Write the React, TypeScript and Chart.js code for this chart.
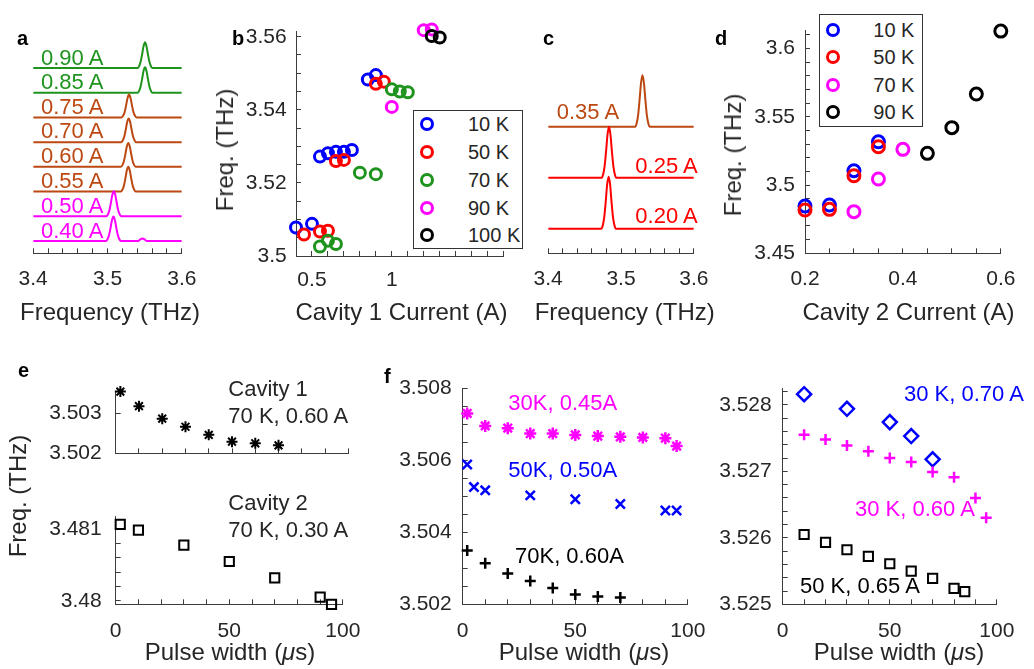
import React, { useEffect, useRef } from 'react';
import { Chart, registerables } from 'chart.js';

Chart.register(...registerables);

const FONT = '"Liberation Sans", Arial, Helvetica, sans-serif';
const TXT = '#262626';
const AX = '#3c3c3c';
const BLUE = '#0000ff';
const RED = '#ff0000';
const GREEN = '#1e941e';
const MAG = '#ff00ff';
const BLK = '#000000';
const BROWN = '#bc4812';

type Pt = [number, number];

// ---------------- Panel a : spectra (frequency THz, normalised intensity) ----------------
const aSpec040: Pt[] = [[3.4,0],[3.498,0],[3.5,0.07],[3.502,0.23],[3.504,0.51],[3.506,0.84],[3.508,0.99],[3.51,0.84],[3.512,0.51],[3.514,0.23],[3.516,0.07],[3.518,0],[3.541,0],[3.544,0.06],[3.547,0.1],[3.55,0.06],[3.553,0],[3.6,0]];
const aSpec050: Pt[] = [[3.4,0],[3.4985,0],[3.5005,0.07],[3.5025,0.23],[3.5045,0.53],[3.5065,0.86],[3.5085,1.01],[3.5105,0.86],[3.5125,0.53],[3.5145,0.23],[3.5165,0.07],[3.5185,0],[3.6,0]];
const aSpec055: Pt[] = [[3.4,0],[3.518,0],[3.52,0.07],[3.522,0.23],[3.524,0.52],[3.526,0.85],[3.528,1],[3.53,0.85],[3.532,0.52],[3.534,0.23],[3.536,0.07],[3.538,0],[3.6,0]];
const aSpec060: Pt[] = [[3.4,0],[3.518,0],[3.52,0.07],[3.522,0.22],[3.524,0.5],[3.526,0.82],[3.528,0.97],[3.53,0.82],[3.532,0.5],[3.534,0.22],[3.536,0.07],[3.538,0],[3.6,0]];
const aSpec070: Pt[] = [[3.4,0],[3.5185,0],[3.5205,0.07],[3.5225,0.22],[3.5245,0.5],[3.5265,0.82],[3.5285,0.96],[3.5305,0.82],[3.5325,0.5],[3.5345,0.22],[3.5365,0.07],[3.5385,0],[3.6,0]];
const aSpec075: Pt[] = [[3.4,0],[3.519,0],[3.521,0.065],[3.523,0.21],[3.525,0.48],[3.527,0.79],[3.529,0.93],[3.531,0.79],[3.533,0.48],[3.535,0.21],[3.537,0.065],[3.539,0],[3.6,0]];
const aSpec085: Pt[] = [[3.4,0],[3.5405,0],[3.5425,0.07],[3.5445,0.24],[3.5465,0.54],[3.5485,0.88],[3.5505,1.03],[3.5525,0.88],[3.5545,0.54],[3.5565,0.24],[3.5585,0.07],[3.5605,0],[3.6,0]];
const aSpec090: Pt[] = [[3.4,0],[3.5405,0],[3.5425,0.07],[3.5445,0.24],[3.5465,0.54],[3.5485,0.88],[3.5505,1.04],[3.5525,0.88],[3.5545,0.54],[3.5565,0.24],[3.5585,0.07],[3.5605,0],[3.6,0]];
const aTraces = [aSpec040, aSpec050, aSpec055, aSpec060, aSpec070, aSpec075, aSpec085, aSpec090];
const aTraceLabels = ['0.40 A', '0.50 A', '0.55 A', '0.60 A', '0.70 A', '0.75 A', '0.85 A', '0.90 A'];
const aTraceColors = [MAG, MAG, BROWN, BROWN, BROWN, BROWN, GREEN, GREEN];

// ---------------- Panel c : spectra ----------------
const cSpec020: Pt[] = [[3.4,0],[3.473,0],[3.475,0.07],[3.477,0.23],[3.479,0.53],[3.481,0.87],[3.483,1.02],[3.485,0.87],[3.487,0.53],[3.489,0.23],[3.491,0.07],[3.493,0],[3.6,0]];
const cSpec025: Pt[] = [[3.4,0],[3.4735,0],[3.4755,0.07],[3.4775,0.23],[3.4795,0.52],[3.4815,0.85],[3.4835,1],[3.4855,0.85],[3.4875,0.52],[3.4895,0.23],[3.4915,0.07],[3.4935,0],[3.6,0]];
const cSpec035: Pt[] = [[3.4,0],[3.5195,0],[3.5215,0.07],[3.5235,0.23],[3.5255,0.53],[3.5275,0.86],[3.5295,1.01],[3.5315,0.86],[3.5335,0.53],[3.5355,0.23],[3.5375,0.07],[3.5395,0],[3.6,0]];
const cTraces = [cSpec020, cSpec025, cSpec035];
const cTraceLabels = ['0.20 A', '0.25 A', '0.35 A'];
const cTraceColors = [RED, RED, BROWN];

const freqTickLabels = [3.4, 3.5, 3.6];

// ---------------- Panel b : cavity 1 current vs frequency ----------------
const bCur10 = [0.4, 0.5, 0.55, 0.6, 0.65, 0.7, 0.75, 0.85, 0.9];
const bFreq10 = [3.5078, 3.5088, 3.5272, 3.5281, 3.5285, 3.5285, 3.529, 3.5483, 3.5495];
const bCur50 = [0.45, 0.55, 0.6, 0.65, 0.7, 0.9, 0.95];
const bFreq50 = [3.5059, 3.5067, 3.5069, 3.526, 3.5263, 3.5471, 3.5477];
const bCur70 = [0.55, 0.6, 0.65, 0.8, 0.9, 1.0, 1.05, 1.1];
const bFreq70 = [3.5026, 3.5042, 3.5033, 3.5228, 3.5224, 3.5456, 3.545, 3.5448];
const bCur90 = [1.0, 1.2, 1.25];
const bFreq90 = [3.5408, 3.5618, 3.562];
const bCur100 = [1.25, 1.3];
const bFreq100 = [3.5602, 3.5598];
const bLegend = ['10 K', '50 K', '70 K', '90 K', '100 K'];
const bXTickLabels = [0.5, 1];
const bYTickLabels = [3.5, 3.52, 3.54, 3.56];

// ---------------- Panel d : cavity 2 current vs frequency ----------------
const dCur10 = [0.2, 0.25, 0.3, 0.35];
const dFreq10 = [3.4846, 3.4854, 3.5105, 3.5317];
const dCur50 = [0.2, 0.25, 0.3, 0.35];
const dFreq50 = [3.4817, 3.4822, 3.5068, 3.528];
const dCur70 = [0.3, 0.35, 0.4];
const dFreq70 = [3.4805, 3.5044, 3.5261];
const dCur90 = [0.45, 0.5, 0.55, 0.6];
const dFreq90 = [3.5232, 3.542, 3.5666, 3.6127];
const dLegend = ['10 K', '50 K', '70 K', '90 K'];
const dXTickLabels = [0.2, 0.4, 0.6];
const dYTickLabels = [3.45, 3.5, 3.55, 3.6];

// ---------------- Panel e : pulse width ----------------
const eCav1Width = [2, 10, 20, 30, 40, 50, 60, 70];
const eCav1Freq = [3.50353, 3.50317, 3.50286, 3.50266, 3.50246, 3.50229, 3.50225, 3.5022];
const eCav2Width = [2, 10, 30, 50, 70, 90, 95];
const eCav2Freq = [3.48107, 3.48099, 3.48078, 3.48055, 3.48032, 3.48005, 3.47995];
const eUpperYTickLabels = [3.502, 3.503];
const eLowerYTickLabels = [3.48, 3.481];
const pulseTickLabels = [0, 50, 100];

// ---------------- Panel f (middle) ----------------
const f30Width = [2, 10, 20, 30, 40, 50, 60, 70, 80, 90, 95];
const f30Freq = [3.50731, 3.50696, 3.5069, 3.50675, 3.50675, 3.50671, 3.50668, 3.50666, 3.50664, 3.50662, 3.5064];
const f50Width = [2, 5, 10, 30, 50, 70, 90, 95];
const f50Freq = [3.50589, 3.50526, 3.50517, 3.50503, 3.50492, 3.50479, 3.50461, 3.50461];
const f70Width = [2, 10, 20, 30, 40, 50, 60, 70];
const f70Freq = [3.5035, 3.50314, 3.50286, 3.50265, 3.50245, 3.50227, 3.50222, 3.50219];
const fMidYTickLabels = [3.502, 3.504, 3.506, 3.508];

// ---------------- Panel f (right) ----------------
const g30a070Width = [10, 30, 50, 60, 70];
const g30a070Freq = [3.52816, 3.52794, 3.52774, 3.52753, 3.52718];
const g30a060Width = [10, 20, 30, 40, 50, 60, 70, 80, 90, 95];
const g30a060Freq = [3.52755, 3.52748, 3.52739, 3.5273, 3.5272, 3.52714, 3.52699, 3.52691, 3.5266, 3.5263];
const g50a065Width = [10, 20, 30, 40, 50, 60, 70, 80, 85];
const g50a065Freq = [3.52605, 3.52593, 3.52582, 3.52572, 3.52561, 3.5255, 3.52539, 3.52524, 3.52519];
const fRightYTickLabels = [3.525, 3.526, 3.527, 3.528];

// ---------------- helpers ----------------
type Rect = { x: number; y: number; w: number; h: number };
type Area = { l: number; t: number; r: number; b: number };
type AxisSpec = { min: number; max: number; step: number; labels?: number[]; show?: boolean; tickPad?: number };

const fmtNum = (v: number) => String(parseFloat(v.toFixed(4)));

function axisOpts(s: AxisSpec, dir: 'x' | 'y', size: number) {
  const show = s.show !== false;
  return {
    type: 'linear',
    position: dir === 'x' ? 'bottom' : 'left',
    min: s.min,
    max: s.max,
    afterFit: (sc: any) => {
      if (dir === 'x') sc.height = size;
      else sc.width = size;
    },
    // tick marks at every multiple of the step inside the axis range
    afterBuildTicks: (sc: any) => {
      const out: { value: number }[] = [];
      const i0 = Math.ceil(s.min / s.step - 1e-6);
      const i1 = Math.floor(s.max / s.step + 1e-6);
      for (let i = i0; i <= i1; i++) out.push({ value: parseFloat((i * s.step).toFixed(8)) });
      sc.ticks = out;
    },
    border: { display: show, color: AX, width: 1 },
    grid: { display: show, drawOnChartArea: false, drawTicks: true, tickLength: -5, color: AX, lineWidth: 1 },
    ticks: {
      display: show,
      stepSize: s.step,
      autoSkip: false,
      maxRotation: 0,
      minRotation: 0,
      padding: s.tickPad ?? 16,
      color: TXT,
      font: { family: FONT, size: 21 },
      callback: (v: any) => {
        const n = Number(v);
        return (s.labels || []).some((l) => Math.abs(l - n) < s.step * 0.01) ? fmtNum(n) : '';
      },
    },
    title: { display: false },
  };
}

function Panel(props: { rect: Rect; area: Area; type: string; datasets: any[]; x: AxisSpec; y: AxisSpec }) {
  const { rect, area, type, datasets, x, y } = props;
  const ref = useRef<HTMLCanvasElement>(null);
  useEffect(() => {
    const chart = new Chart(ref.current as HTMLCanvasElement, {
      type,
      data: { datasets },
      options: {
        responsive: false,
        maintainAspectRatio: false,
        animation: false,
        devicePixelRatio: 1,
        events: [],
        layout: { padding: { left: 0, top: area.t - rect.y, right: rect.x + rect.w - area.r, bottom: 0 } },
        plugins: { legend: { display: false }, tooltip: { enabled: false } },
        scales: {
          x: axisOpts(x, 'x', rect.y + rect.h - area.b),
          y: axisOpts(y, 'y', area.l - rect.x),
        },
      },
    } as any);
    return () => chart.destroy();
  }, []);
  return (
    <canvas
      ref={ref}
      width={rect.w}
      height={rect.h}
      style={{ position: 'absolute', left: rect.x, top: rect.y, width: rect.w, height: rect.h }}
    />
  );
}

function specSets(traces: Pt[][], colors: string[]) {
  return traces.map((pts, k) => ({
    data: pts.map(([f, v]) => ({ x: f, y: v + k })),
    borderColor: colors[k],
    backgroundColor: colors[k],
    borderWidth: 2,
    pointRadius: 0,
    cubicInterpolationMode: 'monotone',
    fill: false,
  }));
}

function scat(xs: number[], ys: number[], color: string, style: string, radius: number, bw: number, order: number) {
  return {
    data: xs.map((v, i) => ({ x: v, y: ys[i] })),
    pointStyle: style,
    pointRadius: radius,
    pointBorderWidth: bw,
    pointBorderColor: color,
    pointBackgroundColor: 'rgba(0,0,0,0)',
    borderColor: color,
    backgroundColor: 'rgba(0,0,0,0)',
    clip: false,
    order,
  };
}

function Txt(p: { x: number; base: number; text: React.ReactNode; color?: string; size?: number; align?: 'left' | 'right' | 'center'; bold?: boolean }) {
  const size = p.size ?? 22;
  const tf = p.align === 'right' ? 'translateX(-100%)' : p.align === 'center' ? 'translateX(-50%)' : undefined;
  return (
    <div
      style={{
        position: 'absolute',
        left: p.x,
        top: p.base - 0.8465 * size,
        fontSize: size,
        lineHeight: `${size}px`,
        color: p.color ?? TXT,
        fontWeight: p.bold ? 700 : 400,
        whiteSpace: 'nowrap',
        fontFamily: FONT,
        transform: tf,
      }}
    >
      {p.text}
    </div>
  );
}

function VTitle(p: { cx: number; cy: number; text: string }) {
  return (
    <div
      style={{
        position: 'absolute', left: p.cx, top: p.cy, fontSize: 24, lineHeight: '24px', color: TXT, fontFamily: FONT,
        whiteSpace: 'nowrap', transform: 'translate(-50%, -50%) rotate(-90deg)',
      }}
    >
      {p.text}
    </div>
  );
}

function Legend(p: { left: number; top: number; w: number; h: number; labels: string[]; colors: string[]; rows: number[]; cx: number; tx: number }) {
  return (
    <div style={{ position: 'absolute', left: p.left, top: p.top, width: p.w, height: p.h, border: '1px solid #333', boxSizing: 'border-box', background: '#fff' }}>
      {p.labels.map((lab, i) => (
        <React.Fragment key={lab}>
          <div
            style={{
              position: 'absolute', left: p.cx - 7 - 1, top: p.rows[i] - 7 - 1, width: 14, height: 14,
              border: `3px solid ${p.colors[i]}`, borderRadius: '50%', boxSizing: 'border-box',
            }}
          />
          <div style={{ position: 'absolute', left: p.tx - 1, top: p.rows[i] - 10 - 1, fontSize: 20, lineHeight: '20px', color: TXT, fontFamily: FONT, whiteSpace: 'nowrap' }}>{lab}</div>
        </React.Fragment>
      ))}
    </div>
  );
}

const pulseTitle = (
  <span>
    Pulse width (<i>μ</i>s)
  </span>
);

export default function App() {
  const pulseX: AxisSpec = { min: 0, max: 100, step: 10, labels: pulseTickLabels, tickPad: 19.6 };

  return (
    <div style={{ position: 'fixed', left: 0, top: 0, width: 1034, height: 669, background: '#fff', overflow: 'hidden', fontFamily: FONT }}>
      {/* a */}
      <Panel
        rect={{ x: 0, y: 0, w: 215, h: 335 }}
        area={{ l: 29.3, t: 31, r: 190.7, b: 253.3 }}
        type="line"
        datasets={specSets(aTraces, aTraceColors)}
        x={{ min: 3.4, max: 3.6, step: 0.02, labels: freqTickLabels, tickPad: 18.6 }}
        y={{ min: -0.5, max: 8.5, step: 1, show: false }}
      />
      {/* b */}
      <Panel
        rect={{ x: 208, y: 0, w: 312, h: 335 }}
        area={{ l: 296, t: 31.6, r: 509.5, b: 256 }}
        type="scatter"
        datasets={[
          scat(bCur10, bFreq10, BLUE, 'circle', 5.5, 3, 0),
          scat(bCur50, bFreq50, RED, 'circle', 5.5, 3, -1),
          scat(bCur70, bFreq70, GREEN, 'circle', 5.5, 3, -2),
          scat(bCur90, bFreq90, MAG, 'circle', 5.5, 3, -3),
          scat(bCur100, bFreq100, BLK, 'circle', 5.5, 3, -4),
        ]}
        x={{ min: 0.4, max: 1.7, step: 0.1, labels: bXTickLabels, tickPad: 16.4 }}
        y={{ min: 3.5, max: 3.5614, step: 0.005, labels: bYTickLabels, tickPad: 14.3 }}
      />
      {/* c */}
      <Panel
        rect={{ x: 515, y: 0, w: 212, h: 335 }}
        area={{ l: 544.3, t: 31, r: 705, b: 253.3 }}
        type="line"
        datasets={specSets(cTraces, cTraceColors)}
        x={{ min: 3.4, max: 3.6, step: 0.02, labels: freqTickLabels, tickPad: 18.6 }}
        y={{ min: -0.48, max: 3.88, step: 1, show: false }}
      />
      {/* d */}
      <Panel
        rect={{ x: 712, y: 0, w: 322, h: 335 }}
        area={{ l: 805, t: 30.7, r: 1014, b: 253.3 }}
        type="scatter"
        datasets={[
          scat(dCur10, dFreq10, BLUE, 'circle', 6, 3, 0),
          scat(dCur50, dFreq50, RED, 'circle', 6, 3, -1),
          scat(dCur70, dFreq70, MAG, 'circle', 6, 3, -2),
          scat(dCur90, dFreq90, BLK, 'circle', 6, 3, -3),
        ]}
        x={{ min: 0.2, max: 0.6, step: 0.05, labels: dXTickLabels, tickPad: 18.6 }}
        y={{ min: 3.45, max: 3.613, step: 0.01, labels: dYTickLabels, tickPad: 15 }}
      />
      {/* e upper */}
      <Panel
        rect={{ x: 0, y: 360, w: 380, h: 125 }}
        area={{ l: 115.7, t: 375, r: 348.3, b: 478.3 }}
        type="scatter"
        datasets={[scat(eCav1Width, eCav1Freq, BLK, 'star', 5.5, 2, 0)]}
        x={{ min: 0, max: 100, step: 10, labels: [] }}
        y={{ min: 3.502, max: 3.50353, step: 0.001, labels: eUpperYTickLabels, tickPad: 19 }}
      />
      {/* e lower */}
      <Panel
        rect={{ x: 0, y: 485, w: 380, h: 184 }}
        area={{ l: 115.7, t: 491.7, r: 348.3, b: 604.3 }}
        type="scatter"
        datasets={[scat(eCav2Width, eCav2Freq, BLK, 'rect', 6.5, 2, 0)]}
        x={pulseX}
        y={{ min: 3.47995, max: 3.48118, step: 0.0002, labels: eLowerYTickLabels, tickPad: 19 }}
      />
      {/* f middle */}
      <Panel
        rect={{ x: 380, y: 360, w: 345, h: 309 }}
        area={{ l: 462.7, t: 380, r: 693.3, b: 604.3 }}
        type="scatter"
        datasets={[
          scat(f30Width, f30Freq, MAG, 'star', 6, 2.5, 0),
          scat(f50Width, f50Freq, BLUE, 'crossRot', 6.5, 2.5, -1),
          scat(f70Width, f70Freq, BLK, 'cross', 5.5, 2.5, -2),
        ]}
        x={pulseX}
        y={{ min: 3.502, max: 3.508, step: 0.0005, labels: fMidYTickLabels, tickPad: 16 }}
      />
      {/* f right */}
      <Panel
        rect={{ x: 700, y: 360, w: 334, h: 309 }}
        area={{ l: 782.7, t: 373.3, r: 1013.3, b: 604.3 }}
        type="scatter"
        datasets={[
          scat(g30a070Width, g30a070Freq, BLUE, 'rectRot', 7, 2.5, 0),
          scat(g30a060Width, g30a060Freq, MAG, 'cross', 5.5, 2.5, -1),
          scat(g50a065Width, g50a065Freq, BLK, 'rect', 6.5, 2, -2),
        ]}
        x={pulseX}
        y={{ min: 3.525, max: 3.528244, step: 0.0002, labels: fRightYTickLabels, tickPad: 16 }}
      />

      {/* axis titles */}
      <Txt x={110} base={320.1} text="Frequency (THz)" size={24} align="center" />
      <Txt x={401.5} base={320.6} text="Cavity 1 Current (A)" size={24} align="center" />
      <Txt x={624.7} base={320.1} text="Frequency (THz)" size={24} align="center" />
      <Txt x={908.5} base={320.6} text="Cavity 2 Current (A)" size={24} align="center" />
      <VTitle cx={225} cy={150} text="Freq. (THz)" />
      <VTitle cx={733} cy={155} text="Freq. (THz)" />
      <VTitle cx={18.3} cy={496} text="Freq. (THz)" />
      <Txt x={230} base={660} text={pulseTitle} size={24} align="center" />
      <Txt x={584} base={660} text={pulseTitle} size={24} align="center" />
      <Txt x={899} base={660} text={pulseTitle} size={24} align="center" />

      {/* panel letters */}
      <Txt x={17} base={45} text="a" bold size={20} color="#000" />
      <Txt x={232} base={45} text="b" bold size={20} color="#000" />
      <Txt x={543} base={45} text="c" bold size={20} color="#000" />
      <Txt x={715} base={45} text="d" bold size={20} color="#000" />
      <Txt x={18} base={377} text="e" bold size={20} color="#000" />
      <Txt x={384} base={383} text="f" bold size={20} color="#000" />

      {/* a trace labels */}
      {aTraceLabels.map((t, k) => (
        <Txt key={t} x={41} base={[238.3, 213.3, 188.3, 163.3, 139, 114.3, 90, 65.7][k]} text={t} color={aTraceColors[k]} />
      ))}
      {/* c trace labels */}
      <Txt x={697.7} base={224} text={cTraceLabels[0]} color={cTraceColors[0]} align="right" />
      <Txt x={697.7} base={173.3} text={cTraceLabels[1]} color={cTraceColors[1]} align="right" />
      <Txt x={556.7} base={119.3} text={cTraceLabels[2]} color={cTraceColors[2]} />

      {/* legends */}
      <Legend left={413} top={110} w={110} h={139} labels={bLegend} colors={[BLUE, RED, GREEN, MAG, BLK]} rows={[14, 42, 70, 97.5, 125]} cx={13.7} tx={55} />
      <Legend left={819} top={14} w={104} h={113} labels={dLegend} colors={[BLUE, RED, MAG, BLK]} rows={[15.5, 42.8, 70.5, 98]} cx={14.3} tx={54.3} />

      {/* e annotations */}
      <Txt x={228.3} base={396.7} text="Cavity 1" />
      <Txt x={228.3} base={424} text="70 K, 0.60 A" />
      <Txt x={228.3} base={510.7} text="Cavity 2" />
      <Txt x={228.3} base={537.3} text="70 K, 0.30 A" />

      {/* f annotations */}
      <Txt x={508.3} base={410.7} text="30K, 0.45A" color={MAG} />
      <Txt x={508.3} base={477.3} text="50K, 0.50A" color={BLUE} />
      <Txt x={515} base={563.3} text="70K, 0.60A" color={BLK} />
      <Txt x={904} base={401.7} text="30 K, 0.70 A" color={BLUE} />
      <Txt x={855} base={516.7} text="30 K, 0.60 A" color={MAG} />
      <Txt x={800} base={593.3} text="50 K, 0.65 A" color={BLK} />
    </div>
  );
}
